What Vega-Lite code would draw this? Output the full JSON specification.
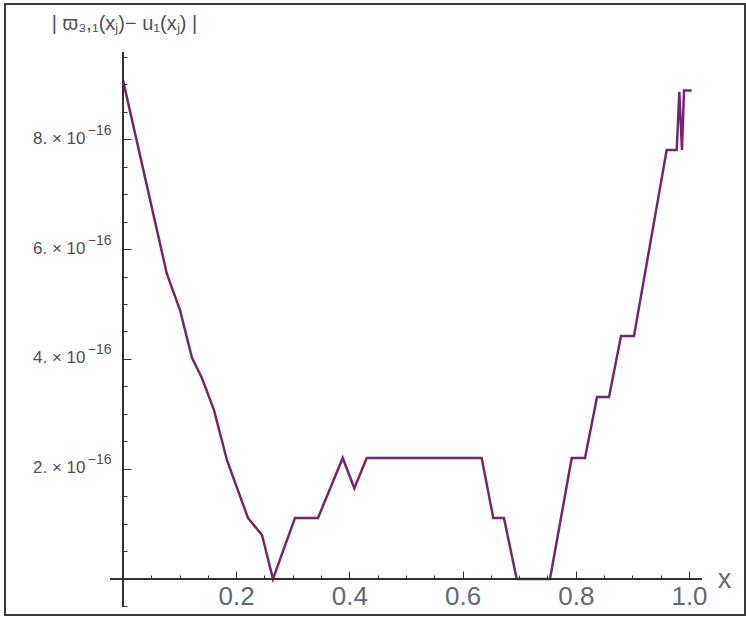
{
  "$schema": "https://vega.github.io/schema/vega-lite/v6.json",
  "width": 740,
  "height": 611,
  "autosize": "none",
  "padding": {"left": 5, "top": 4, "right": 1, "bottom": 5},
  "background": "white",
  "config": {
    "view": {"stroke": "#3a3a3a", "strokeWidth": 2},
    "font": "Liberation Sans",
    "axis": {"grid": false, "domain": false, "labelFlush": false, "labelOverlap": false, "tickColor": "#333", "tickWidth": 1}
  },
  "resolve": {"axis": {"x": "independent", "y": "independent"}},
  "data": {
    "values": [
      {"x": 0, "y": 9.07e-16},
      {"x": 0.0772, "y": 5.56e-16},
      {"x": 0.1007, "y": 4.89e-16},
      {"x": 0.1219, "y": 4.02e-16},
      {"x": 0.1396, "y": 3.65e-16},
      {"x": 0.1608, "y": 3.07e-16},
      {"x": 0.1837, "y": 2.16e-16},
      {"x": 0.2208, "y": 1.11e-16},
      {"x": 0.2456, "y": 0.8e-16},
      {"x": 0.265, "y": 0},
      {"x": 0.3039, "y": 1.11e-16},
      {"x": 0.3445, "y": 1.11e-16},
      {"x": 0.3882, "y": 2.2e-16},
      {"x": 0.4087, "y": 1.65e-16},
      {"x": 0.4306, "y": 2.2e-16},
      {"x": 0.6337, "y": 2.2e-16},
      {"x": 0.6542, "y": 1.11e-16},
      {"x": 0.6731, "y": 1.11e-16},
      {"x": 0.6956, "y": 0},
      {"x": 0.7544, "y": 0},
      {"x": 0.7928, "y": 2.2e-16},
      {"x": 0.8163, "y": 2.2e-16},
      {"x": 0.8375, "y": 3.31e-16},
      {"x": 0.8587, "y": 3.31e-16},
      {"x": 0.8799, "y": 4.42e-16},
      {"x": 0.9028, "y": 4.42e-16},
      {"x": 0.9606, "y": 7.8e-16},
      {"x": 0.9783, "y": 7.8e-16},
      {"x": 0.9829, "y": 8.86e-16},
      {"x": 0.9876, "y": 7.8e-16},
      {"x": 0.9912, "y": 8.88e-16},
      {"x": 1.0048, "y": 8.88e-16}
    ]
  },
  "layer": [
    {
      "mark": {"type": "line", "color": "#72286E", "strokeWidth": 2.5, "clip": false},
      "encoding": {
        "x": {
          "field": "x",
          "type": "quantitative",
          "scale": {"domain": [-0.20848, 1.09894], "nice": false, "zero": false},
          "axis": {
            "orient": "bottom",
            "offset": -36,
            "values": [0.2, 0.4, 0.6, 0.8, 1.0],
            "format": ".1f",
            "tickSize": -8,
            "labelFontSize": 26,
            "labelColor": "#646872",
            "labelPadding": 12,
            "title": "x",
            "titleFontSize": 27,
            "titleFontWeight": "normal",
            "titleColor": "#646872",
            "titleX": 719,
            "titleY": 8,
            "titleAlign": "center",
            "titleBaseline": "alphabetic"
          }
        },
        "y": {
          "field": "y",
          "type": "quantitative",
          "scale": {"domain": [-6.5455e-17, 1.045455e-15], "nice": false, "zero": false},
          "axis": {
            "orient": "left",
            "offset": -118,
            "values": [2e-16, 4e-16, 6e-16, 8e-16],
            "tickSize": -8,
            "labelExpr": "round(datum.value*1e16) + '. × 10'",
            "labelFontSize": 17,
            "labelColor": "#505050",
            "labelPadding": 46,
            "labelBaseline": "middle",
            "labelOffset": -1,
            "title": "| ϖ₃,₁(xⱼ)− u₁(xⱼ) |",
            "titleAngle": 0,
            "titleFontSize": 20,
            "titleFontWeight": "normal",
            "titleColor": "#505050",
            "titleX": 1,
            "titleY": 19,
            "titleAlign": "center",
            "titleBaseline": "middle"
          }
        }
      }
    },
    {
      "mark": {"type": "rule", "color": "#333", "strokeWidth": 1.5},
      "encoding": {
        "x": {
          "datum": -0.023,
          "axis": {
            "orient": "bottom",
            "offset": -36,
            "values": [0.05, 0.1, 0.15, 0.25, 0.3, 0.35, 0.45, 0.5, 0.55, 0.65, 0.7, 0.75, 0.85, 0.9, 0.95],
            "tickSize": -4,
            "labels": false,
            "title": null
          }
        },
        "x2": {"datum": 1.022},
        "y": {
          "datum": 0,
          "axis": {
            "orient": "left",
            "offset": -118,
            "values": [2e-16, 4e-16, 6e-16, 8e-16],
            "ticks": false,
            "labelExpr": "'−16'",
            "labelFontSize": 14,
            "labelColor": "#505050",
            "labelPadding": 12,
            "labelBaseline": "middle",
            "labelOffset": -9,
            "title": null
          }
        }
      }
    },
    {
      "mark": {"type": "rule", "color": "#333", "strokeWidth": 1.5},
      "encoding": {
        "x": {"datum": 0, "axis": null},
        "y": {
          "datum": -5e-17,
          "axis": {
            "orient": "left",
            "offset": -118,
            "values": [-5e-17, 5e-17, 1e-16, 1.5e-16, 2.5e-16, 3e-16, 3.5e-16, 4.5e-16, 5e-16, 5.5e-16, 6.5e-16, 7e-16, 7.5e-16, 8.5e-16, 9e-16, 9.5e-16],
            "tickSize": -4,
            "labels": false,
            "title": null
          }
        },
        "y2": {"datum": 9.58e-16}
      }
    }
  ]
}
